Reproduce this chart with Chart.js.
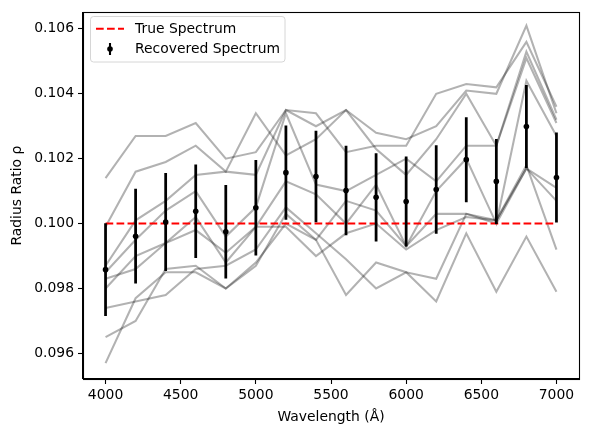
<!DOCTYPE html>
<html><head><meta charset="utf-8">
<script src="https://cdn.jsdelivr.net/npm/chart.js@4/dist/chart.umd.min.js"></script>
<style>html,body{margin:0;padding:0;background:#fff}canvas{display:block}</style>
</head><body>
<canvas id="c" width="589" height="438"></canvas>
<script>
const wavelengths = [4000,4200,4400,4600,4800,5000,5200,5400,5600,5800,6000,6200,6400,6600,6800,7000];
const trueSpectrum = [0.1,0.1,0.1,0.1,0.1,0.1,0.1,0.1,0.1,0.1,0.1,0.1,0.1,0.1,0.1,0.1];
const recovered = [0.09858,0.09961,0.10005,0.10038,0.09975,0.10049,0.10157,0.10145,0.10102,0.10081,0.10068,0.10105,0.10197,0.10130,0.10299,0.10142];
const recoveredErr = [0.00142,0.00145,0.00150,0.00143,0.00143,0.00146,0.00144,0.00140,0.00137,0.00135,0.00138,0.00135,0.00130,0.00130,0.00127,0.00138];
const sample1 = [0.1014,0.1027,0.1027,0.1031,0.1020,0.1022,0.1035,0.1034,0.1022,0.1024,0.1024,0.1040,0.1043,0.1042,0.1056,0.1036];
const sample2 = [0.0999,0.1016,0.1019,0.1024,0.1016,0.1034,0.1021,0.1026,0.1035,0.1028,0.1026,0.1030,0.1041,0.1040,0.1061,0.1034];
const sample3 = [0.0987,0.1001,0.1007,0.1015,0.1016,0.1015,0.1035,0.1030,0.1035,0.1023,0.1015,0.1026,0.1040,0.1024,0.1053,0.1032];
const sample4 = [0.0985,0.0995,0.1004,0.1010,0.0996,0.1005,0.1034,0.1012,0.1010,0.1015,0.1020,0.1013,0.1024,0.1024,0.1051,0.1031];
const sample5 = [0.0980,0.0990,0.0994,0.1002,0.0988,0.0999,0.1013,0.1009,0.1000,0.1012,0.0993,0.1010,0.1020,0.1000,0.1044,0.1027];
const sample6 = [0.0974,0.0976,0.0978,0.0986,0.0987,0.0992,0.1005,0.0997,0.0989,0.0980,0.0985,0.0983,0.1003,0.1001,0.1017,0.1011];
const sample7 = [0.0965,0.0970,0.0986,0.0987,0.0980,0.0988,0.1000,0.0995,0.1007,0.1004,0.0993,0.1003,0.1003,0.1000,0.1017,0.1007];
const sample8 = [0.0957,0.0977,0.0985,0.0985,0.0980,0.0987,0.1003,0.0995,0.0978,0.0988,0.0985,0.0976,0.0997,0.0979,0.0996,0.0979];
const sample9 = [0.0983,0.0986,0.0994,0.0998,0.0991,0.0999,0.0999,0.0990,0.0997,0.1000,0.0992,0.0998,0.1002,0.1001,0.1018,0.0992];
const samples = [sample1,sample2,sample3,sample4,sample5,sample6,sample7,sample8,sample9];
const xTicks = [4000,4500,5000,5500,6000,6500,7000];
const yTicks = [0.096,0.098,0.100,0.102,0.104,0.106];
const xLabel = 'Wavelength (Å)';
const yLabel = 'Radius Ratio ρ';
const trueLabel = 'True Spectrum';
const recLabel = 'Recovered Spectrum';

const FONT = 'DejaVu Sans';
const FS = 13.9;
const pts = arr => wavelengths.map((x,i)=>({x:x, y:arr[i]}));

const datasets = [];
samples.forEach((s)=>{
  datasets.push({type:'line', data:pts(s), borderColor:'rgba(0,0,0,0.3)', borderWidth:2.08,
    pointRadius:0, fill:false, tension:0, order:10, isSample:true});
});
datasets.push({type:'line', label:trueLabel, data:pts(trueSpectrum), borderColor:'#ff0000', borderWidth:2.08,
  borderDash:[7.7,3.3], pointRadius:0, fill:false, tension:0, order:5, legendKind:'line'});
datasets.push({type:'bar', label:recLabel+' err', data:wavelengths.map((x,i)=>({x:x, y:[recovered[i]-recoveredErr[i], recovered[i]+recoveredErr[i]]})),
  backgroundColor:'#000', borderWidth:0, barThickness:2.1, order:2, isErr:true});
datasets.push({type:'line', label:recLabel, data:pts(recovered), showLine:false, pointRadius:2.8,
  pointBackgroundColor:'#000', pointBorderColor:'#000', pointBorderWidth:0, order:1, legendKind:'err'});

const framePlugin = {
  id:'frame',
  afterDatasetsDraw(chart){
    const {ctx, chartArea:a} = chart;
    ctx.save();
    ctx.strokeStyle = '#000'; ctx.lineWidth = 1.1;
    ctx.strokeRect(Math.round(a.left)+0.5, Math.round(a.top)+0.5, Math.round(a.right-a.left), Math.round(a.bottom-a.top));
    ctx.restore();
  }
};

const legendPlugin = {
  id:'mplLegend',
  afterDraw(chart){
    const {ctx} = chart;
    const x0 = 90.5, y0 = 16.5, w = 194.5, h = 45.5, r = 3;
    ctx.save();
    ctx.beginPath();
    ctx.moveTo(x0+r,y0); ctx.lineTo(x0+w-r,y0); ctx.quadraticCurveTo(x0+w,y0,x0+w,y0+r);
    ctx.lineTo(x0+w,y0+h-r); ctx.quadraticCurveTo(x0+w,y0+h,x0+w-r,y0+h);
    ctx.lineTo(x0+r,y0+h); ctx.quadraticCurveTo(x0,y0+h,x0,y0+h-r);
    ctx.lineTo(x0,y0+r); ctx.quadraticCurveTo(x0,y0,x0+r,y0); ctx.closePath();
    ctx.fillStyle = 'rgba(255,255,255,0.8)'; ctx.fill();
    ctx.strokeStyle = '#d6d6d6'; ctx.lineWidth = 1; ctx.stroke();
    const items = chart.data.datasets.filter(d=>d.legendKind);
    items.forEach((d,i)=>{
      const cy = 28.7 + i*20.3;
      if (d.legendKind === 'line'){
        ctx.strokeStyle = d.borderColor; ctx.lineWidth = d.borderWidth; ctx.setLineDash(d.borderDash);
        ctx.beginPath(); ctx.moveTo(96, cy); ctx.lineTo(124, cy); ctx.stroke(); ctx.setLineDash([]);
      } else {
        ctx.strokeStyle = '#000'; ctx.lineWidth = 2.08;
        ctx.beginPath(); ctx.moveTo(110, cy-6); ctx.lineTo(110, cy+6); ctx.stroke();
        ctx.fillStyle = '#000'; ctx.beginPath(); ctx.arc(110, cy, 2.8, 0, Math.PI*2); ctx.fill();
      }
      ctx.fillStyle = '#000'; ctx.font = FS+'px "'+FONT+'"'; ctx.textBaseline = 'middle'; ctx.textAlign = 'left';
      ctx.fillText(d.label, 135, cy+0.5);
    });
    ctx.restore();
  }
};

new Chart(document.getElementById('c'), {
  type:'line',
  data:{datasets:datasets},
  options:{
    responsive:false, animation:false, devicePixelRatio:1,
    layout:{padding:{left:0, right:10, top:9, bottom:0}},
    plugins:{legend:{display:false}, tooltip:{enabled:false}},
    scales:{
      x:{type:'linear', min:3850, max:7150, offset:false,
        afterBuildTicks(s){ s.ticks = xTicks.map(v=>({value:v})); },
        afterFit(s){ s.height = 59; },
        grid:{drawOnChartArea:false, drawTicks:true, tickLength:5, tickColor:'#000', tickWidth:1.1, offset:false},
        border:{display:true, color:'#000', width:1.1},
        ticks:{color:'#000', font:{family:FONT, size:FS}, padding:3, maxRotation:0, autoSkip:false, callback:v=>String(v)},
        title:{display:true, text:xLabel, color:'#000', font:{family:FONT, size:FS}, padding:{top:0,bottom:12}}
      },
      y:{type:'linear', min:0.09521, max:0.10651,
        afterBuildTicks(s){ s.ticks = yTicks.map(v=>({value:v})); },
        afterFit(s){ s.width = 83; },
        grid:{drawOnChartArea:false, drawTicks:true, tickLength:5, tickColor:'#000', tickWidth:1.1},
        border:{display:true, color:'#000', width:1.1},
        ticks:{color:'#000', font:{family:FONT, size:FS}, padding:4, autoSkip:false, callback:v=>v.toFixed(3)},
        title:{display:true, text:yLabel, color:'#000', font:{family:FONT, size:FS}, padding:{top:9,bottom:0}}
      }
    }
  },
  plugins:[framePlugin, legendPlugin]
});
</script>
</body></html>
